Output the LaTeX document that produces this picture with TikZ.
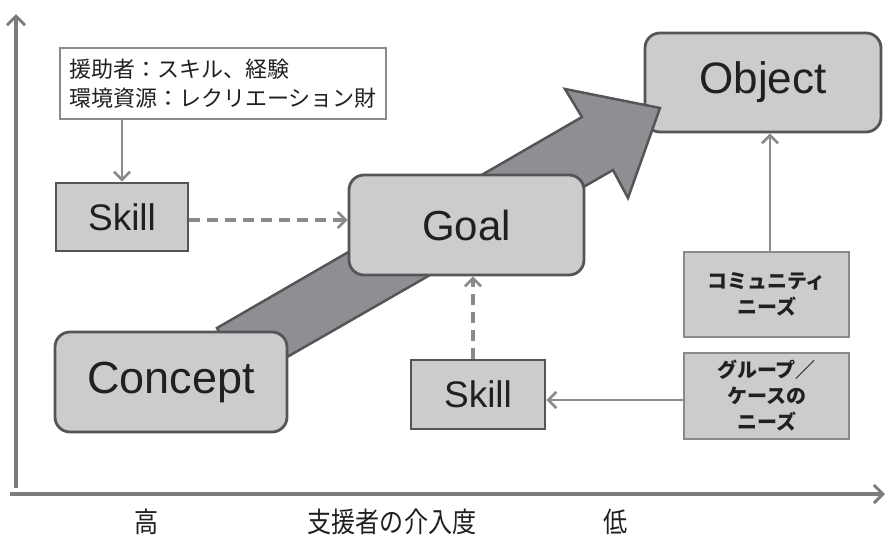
\documentclass[tikz,border=0pt]{standalone}
\usepackage{fontspec}
\setmainfont{Liberation Sans}
\newfontfamily\jp{Noto Sans CJK JP}
\newfontfamily\jpn{Noto Sans CJK JP}[FakeStretch=0.86]
\usetikzlibrary{arrows.meta}
\definecolor{boxfill}{HTML}{CBCCCE}
\definecolor{dk}{HTML}{555557}
\definecolor{gl}{HTML}{8A8A8C}
\definecolor{arrowfill}{HTML}{8E8F92}
\definecolor{txt}{HTML}{231F20}
\tikzset{
  box/.style={draw=dk, fill=boxfill, line width=2.8pt, text=txt, inner sep=0pt, align=center},
  rbox/.style={box, rounded corners=15pt},
  needbox/.style={draw=gl, fill=boxfill, line width=1.6pt, text=txt, inner sep=0pt, align=center,
    minimum width=165pt, font=\jp\bfseries\fontsize{20}{26}\selectfont},
  gline/.style={draw=gl, line width=2.7pt, -{Straight Barb[length=8pt,width=16pt,line width=2.7pt]}},
  dline/.style={gline, line width=4pt, dash pattern=on 11pt off 7pt},
  axis/.style={draw=gl!90!black, line width=3.5pt, -{Straight Barb[length=9pt,width=18pt,line width=3pt]}},
  lab/.style={text=txt, font=\jpn\fontsize{28}{32}\selectfont}
}
\begin{document}
\begin{tikzpicture}[x=1pt,y=-1pt]
\useasboundingbox (0,0) rectangle (887,539);
% axes
\coordinate (vb) at (16,488);
\coordinate (vt) at (16,14);
\coordinate (hl) at (10,494);
\coordinate (hr) at (885,494);
\draw[axis] (vb) -- (vt);
\draw[axis] (hl) -- (hr);
% object box (under big arrow)
\node[rbox, minimum width=236pt, minimum height=99pt, font=\fontsize{44}{50}\selectfont] (object) at (763,82.5) {Object};
% big arrow
\filldraw[fill=arrowfill, draw=dk, line width=2.5pt, line join=miter]
  (217,328) -- (582,117) -- (565,89) -- (660,108) -- (628,198) -- (613,170) -- (247,380) -- cycle;
% nodes
\node[rbox, minimum width=235pt, minimum height=100pt, font=\fontsize{42}{48}\selectfont] (goal) at (466.5,225) {Goal};
\node[rbox, minimum width=232pt, minimum height=100pt, font=\fontsize{45}{50}\selectfont] (concept) at (171,382) {Concept};
\node[draw=gl, fill=white, line width=2.5pt, text=txt, inner sep=0pt, minimum width=326pt, minimum height=71pt,
  align=left, font=\jp\fontsize{22}{29}\selectfont] (info) at (223,83.5) {援助者：スキル、経験\\環境資源：レクリエーション財};
\node[box, minimum width=132pt, minimum height=68pt, font=\fontsize{37}{42}\selectfont] (skillA) at (122,217) {Skill};
\node[box, minimum width=134pt, minimum height=69pt, font=\fontsize{37}{42}\selectfont] (skillB) at (478,394.5) {Skill};
\node[needbox, minimum height=85pt] (comm) at (766.5,294.5) {コミュニティ\\ニーズ};
\node[needbox, minimum height=86pt] (group) at (766.5,396) {グループ／\\ケースの\\ニーズ};
% connectors
\draw[gline] (skillA.north |- info.south) -- (skillA.north);
\draw[dline] (skillA.east |- 0,220) -- (goal.west |- 0,220);
\draw[dline] ([xshift=-5pt]skillB.north) -- ([xshift=-5pt]skillB.north |- goal.south);
\draw[gline] ([xshift=3.5pt]comm.north) -- ([xshift=3.5pt]comm.north |- object.south);
\draw[gline] ([yshift=-4pt]group.west) -- ([yshift=-4pt]group.west -| skillB.east);
% axis labels
\node[lab] (hi) at (147,522) {高};
\node[lab] (ttl) at (392,522) {支援者の介入度};
\node[lab] (lo) at (616,522) {低};
\end{tikzpicture}
\end{document}
